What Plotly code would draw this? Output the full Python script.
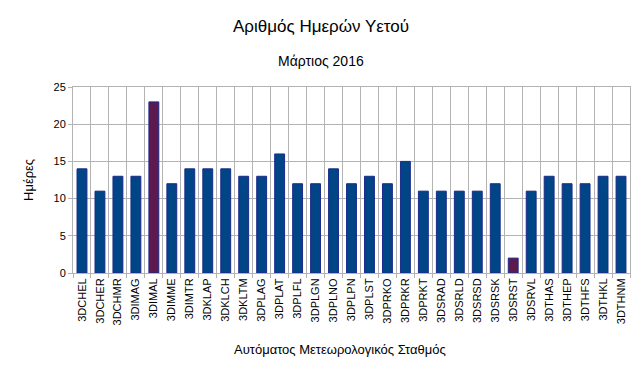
import plotly.graph_objects as go

stations = ["3DCHEL", "3DCHER", "3DCHMR", "3DIMAG", "3DIMAL", "3DIMME", "3DIMTR", "3DKLAP",
            "3DKLCH", "3DKLTM", "3DPLAG", "3DPLAT", "3DPLFL", "3DPLGN", "3DPLNO", "3DPLPN",
            "3DPLST", "3DPRKO", "3DPRKR", "3DPRKT", "3DSRAD", "3DSRLD", "3DSRSD", "3DSRSK",
            "3DSRST", "3DSRVL", "3DTHAS", "3DTHEP", "3DTHFS", "3DTHKL", "3DTHNM"]
rain_days = [14, 11, 13, 13, 23, 12, 14, 14, 14, 13, 13, 16, 12, 12, 14, 12,
             13, 12, 15, 11, 11, 11, 11, 12, 2, 11, 13, 12, 12, 13, 13]
highlight = ["3DIMAL", "3DSRST"]

colors = ["#5c1a4f" if s in highlight else "#004586" for s in stations]

fig = go.Figure(go.Bar(
    x=stations, y=rain_days,
    marker=dict(color=colors, line=dict(color="#1c2a8a", width=1)),
    width=0.55,
))

font = "Liberation Sans, Arial, sans-serif"
W, H = 642, 375
top, bottom, left, right = 87, 102, 73, 12
plot_w = W - left - right
plot_h = H - top - bottom


def px(x):
    return (x - left) / plot_w


def py(y):
    return (H - bottom - y) / plot_h


def note(text, x, y, size, angle=0):
    return dict(text=text, x=px(x), y=py(y), xref="paper", yref="paper",
                xanchor="center", yanchor="middle", showarrow=False,
                textangle=angle, font=dict(size=size))


fig.update_layout(
    width=W, height=H,
    margin=dict(l=left, r=right, t=top, b=bottom, autoexpand=False),
    paper_bgcolor="white", plot_bgcolor="white",
    font=dict(family=font, color="#000000", size=11),
    showlegend=False,
    annotations=[
        note("Αριθμός Ημερών Υετού", 321, 26, 17),
        note("Μάρτιος 2016", 321, 61, 14),
        note("Αυτόματος Μετεωρολογικός Σταθμός", 340, 349, 13),
        note("Ημέρες", 28, 180, 13, -90),
    ],
)

fig.update_xaxes(
    type="category", tickangle=-90, tickson="boundaries", automargin=False,
    showgrid=True, gridcolor="#b3b3b3", gridwidth=1,
    ticks="outside", ticklen=4, tickcolor="#b3b3b3",
    showline=True, linecolor="#b3b3b3", mirror=True,
    tickfont=dict(size=11),
)
fig.update_yaxes(
    range=[0, 25], dtick=5, showgrid=True, gridcolor="#b3b3b3", gridwidth=1,
    automargin=False,
    ticks="outside", ticklen=4, tickcolor="#b3b3b3",
    showline=True, linecolor="#b3b3b3", mirror=True, zeroline=False,
    tickfont=dict(size=11),
)

fig.write_html("out.html", config={"displayModeBar": False},
               post_script="document.body.style.margin='0';")
